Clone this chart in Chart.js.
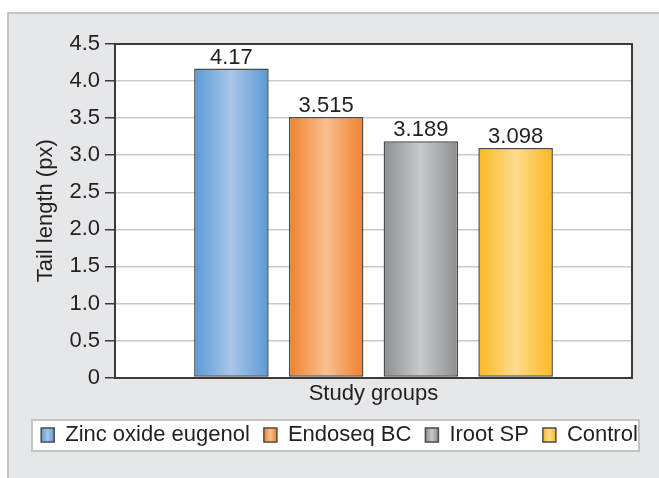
<!DOCTYPE html>
<html>
<head>
<meta charset="utf-8">
<script src="https://cdn.jsdelivr.net/npm/chart.js@4.4.1/dist/chart.umd.min.js"></script>
<style>
    body { margin: 0; background: #ffffff; }
    #panel {
        position: absolute; left: 7px; top: 12px; width: 660px; height: 480px;
        background: #e6e7e8; border: 2px solid #c4c5c7; box-sizing: border-box;
    }
    #wrap { position: absolute; left: 0; top: 0; width: 659px; height: 478px; }
</style>
</head>
<body>
<div id="panel"></div>
<div id="wrap"><canvas id="barChart"></canvas></div>
<script>

// data
const categories = ["Study groups"];
const groups = ["Zinc oxide eugenol", "Endoseq BC", "Iroot SP", "Control"];
const tailLength = [4.17, 3.515, 3.189, 3.098];
const yTickLabels = ["0", "0.5", "1.0", "1.5", "2.0", "2.5", "3.0", "3.5", "4.0", "4.5"];

// edge / centre colours of each bar's shading
const edgeColors = ["#5a9ad4", "#f0802c", "#8c8e90", "#fbb822"];
const midColors = ["#a9c5e9", "#f9c090", "#c9cacb", "#fddb8e"];

const textColor = "#231f20";
const fontFamily = "'Liberation Sans', Arial, sans-serif";
const fontSize = 22;

function shade(ctx, left, width, i){
    const g = ctx.createLinearGradient(left, 0, left + width, 0);
    g.addColorStop(0, edgeColors[i]);
    g.addColorStop(0.5, midColors[i]);
    g.addColorStop(1, edgeColors[i]);
    return g;
}

// white plot area, border, gradients, value labels, legend frame
const decorations = {
    id: "decorations",
    afterLayout(chart){
        // nudge the legend row right, like the original frame
        const lg = chart.legend;
        lg.left += 10; lg.right += 10;
    },
    beforeDraw(chart){
        const ctx = chart.ctx;
        const a = chart.chartArea;
        ctx.save();
        ctx.fillStyle = "#ffffff";
        ctx.fillRect(a.left, a.top, a.right - a.left, a.bottom - a.top);

        // legend frame
        const lg = chart.legend;
        if(lg && lg.legendItems.length){
            const cy = lg.top + lg.options.labels.padding + fontSize / 2;
            ctx.fillStyle = "#ffffff";
            ctx.fillRect(32, cy - 15, 607, 31);
            ctx.strokeStyle = "#c2c3c5";
            ctx.lineWidth = 2;
            ctx.strokeRect(32, cy - 15, 607, 31);

            lg.legendItems.forEach((item, i) => {
                const b = lg.legendHitBoxes[i];
                item.fillStyle = shade(ctx, b.left, lg.options.labels.boxWidth, i);
            });
        }
        ctx.restore();
    },
    beforeDatasetsDraw(chart){
        const ctx = chart.ctx;
        chart.data.datasets.forEach((ds, i) => {
            const meta = chart.getDatasetMeta(i);
            meta.data.forEach(el => {
                el.options.backgroundColor = shade(ctx, el.x - el.width / 2, el.width, i);
            });
        });
    },
    afterDatasetsDraw(chart){
        const ctx = chart.ctx;
        const a = chart.chartArea;
        ctx.save();
        ctx.strokeStyle = "#3a3a3a";
        ctx.lineWidth = 2;
        ctx.beginPath();
        ctx.moveTo(a.left, a.top);
        ctx.lineTo(a.right, a.top);
        ctx.lineTo(a.right, a.bottom);
        ctx.stroke();

        ctx.fillStyle = textColor;
        ctx.font = fontSize + "px " + fontFamily;
        ctx.textAlign = "center";
        ctx.textBaseline = "bottom";
        chart.data.datasets.forEach((ds, i) => {
            const meta = chart.getDatasetMeta(i);
            meta.data.forEach((el, j) => {
                ctx.fillText(String(ds.data[j]), el.x, el.y);
            });
        });
        ctx.restore();
    }
};

new Chart(document.getElementById("barChart"), {
    type: "bar",
    data: {
        labels: categories,
        datasets: groups.map((name, i) => ({
            label: name,
            data: [tailLength[i]],
            backgroundColor: midColors[i],
            borderColor: "#4a4a4a",
            borderWidth: 1.5,
            borderSkipped: false,
            categoryPercentage: 0.733,
            barPercentage: 0.787
        }))
    },
    options: {
        responsive: true,
        maintainAspectRatio: false,
        animation: false,
        layout: {
            padding: { top: 44, right: 0, bottom: 22, left: 0 }
        },
        scales: {
            x: {
                grid: { display: false, drawTicks: false },
                border: { display: true, color: "#3a3a3a", width: 2 },
                ticks: {
                    color: textColor,
                    font: { family: fontFamily, size: fontSize },
                    padding: 3
                }
            },
            y: {
                min: 0,
                max: 4.5,
                afterFit(scale){ scale.width = 115; },
                grid: {
                    color: "#c8c9ca",
                    lineWidth: 1.5,
                    tickColor: "#3a3a3a",
                    tickLength: 10
                },
                border: { display: true, color: "#3a3a3a", width: 2 },
                ticks: {
                    stepSize: 0.5,
                    color: textColor,
                    padding: 5,
                    font: { family: fontFamily, size: fontSize },
                    callback: (v, index) => yTickLabels[index]
                },
                title: {
                    display: true,
                    text: "Tail length (px)",
                    color: textColor,
                    font: { family: fontFamily, size: fontSize },
                    padding: { top: 33, bottom: 0 }
                }
            },
            // empty right gutter so the plot stops short of the panel edge
            gutter: {
                type: "linear",
                position: "right",
                afterFit(scale){ scale.width = 27; },
                grid: { display: false, drawTicks: false },
                border: { display: false },
                ticks: { display: false }
            }
        },
        plugins: {
            legend: {
                position: "bottom",
                labels: {
                    boxWidth: 13,
                    boxHeight: 14,
                    padding: 14,
                    color: textColor,
                    font: { family: fontFamily, size: fontSize },
                    generateLabels(chart){
                        return chart.data.datasets.map((ds, i) => ({
                            text: ds.label,
                            fillStyle: midColors[i],
                            strokeStyle: "#4a4a4a",
                            lineWidth: 1.5,
                            fontColor: textColor,
                            datasetIndex: i
                        }));
                    }
                }
            },
            tooltip: { enabled: false }
        }
    },
    plugins: [decorations]
});

</script>
</body>
</html>
